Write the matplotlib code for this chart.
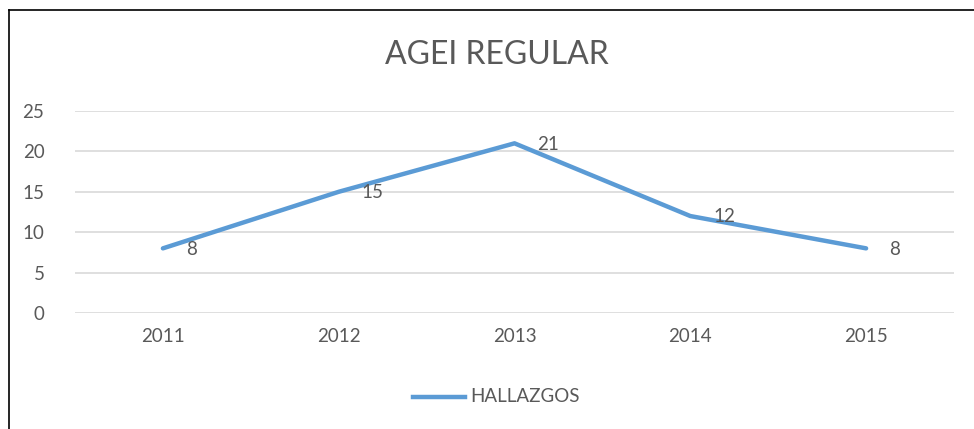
import matplotlib
matplotlib.use("Agg")
import matplotlib.pyplot as plt
from matplotlib.lines import Line2D

plt.rcParams['font.family'] = ['Lato', 'DejaVu Sans']

years = ["2011", "2012", "2013", "2014", "2015"]
hallazgos = [8, 15, 21, 12, 8]
yticks = [0, 5, 10, 15, 20, 25]
title = "AGEI REGULAR"
series_name = "HALLAZGOS"

text_color = "#595959"
line_color = "#5B9BD5"
grid_color = "#D9D9D9"
fs = 13.5

fig = plt.figure(figsize=(9.74, 4.29), dpi=100)
ax = fig.add_axes([75/974, 1-313/429, (954-75)/974, (313-111)/429])

x = list(range(len(years)))
ax.plot(x, hallazgos, color=line_color, linewidth=3.2, solid_capstyle='round')
for xi, v in zip(x, hallazgos):
    ax.annotate(str(v), (xi, v), xytext=(16.5, -0.5), textcoords='offset points',
                ha='left', va='center', fontsize=fs, color=text_color)

ax.set_xlim(-0.5, len(years) - 0.5)
ax.set_ylim(0, 25)
ax.set_yticks(yticks)
ax.set_xticks(x)
ax.set_xticklabels(years)
ax.tick_params(axis='both', length=0, labelsize=fs, labelcolor=text_color)
ax.tick_params(axis='y', pad=22)
ax.tick_params(axis='x', pad=11)
ax.grid(axis='y', color=grid_color, linewidth=1.2)
ax.set_axisbelow(True)
for s in ax.spines.values():
    s.set_visible(False)

fig.text(497/974, 1-55/429, title, ha='center', va='center', fontsize=23, color=text_color)

# legend
fig.add_artist(Line2D([413/974, 465/974], [1-397/429, 1-397/429], color=line_color, linewidth=3.2))
fig.text(470/974, 1-397/429, series_name, ha='left', va='center', fontsize=fs, color=text_color)

# border
fig.add_artist(Line2D([9/974, 9/974], [0, 1-10/429], color='black', linewidth=1.2))
fig.add_artist(Line2D([9/974, 1], [1-10/429, 1-10/429], color='black', linewidth=1.2))

fig.savefig("out.png", dpi=100)
